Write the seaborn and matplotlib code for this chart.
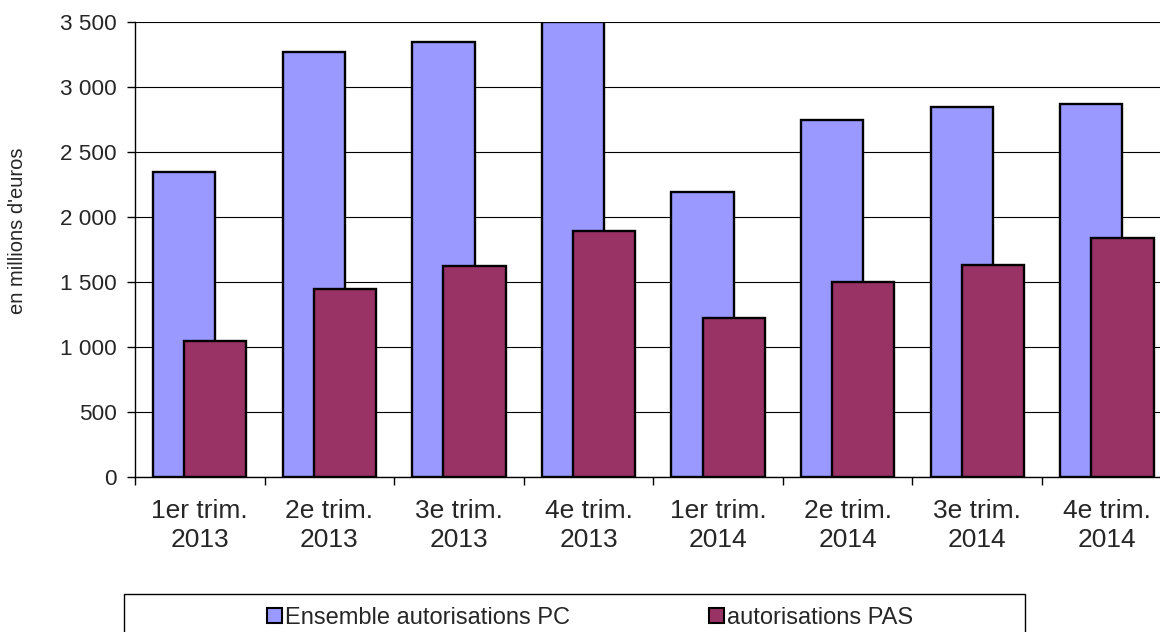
import numpy as np
import pandas as pd
import matplotlib
matplotlib.use("Agg")
import matplotlib.pyplot as plt
from matplotlib.patches import Rectangle, Patch
import seaborn as sns

# data (millions d'euros)
quarters = ["1er trim.\n2013", "2e trim.\n2013", "3e trim.\n2013", "4e trim.\n2013",
            "1er trim.\n2014", "2e trim.\n2014", "3e trim.\n2014", "4e trim.\n2014"]
pc_values = [2350, 3270, 3350, 3500, 2190, 2750, 2850, 2870]
pas_values = [1050, 1445, 1620, 1895, 1220, 1500, 1630, 1835]
y_ticks = [0, 500, 1000, 1500, 2000, 2500, 3000, 3500]

pc_label = "Ensemble autorisations PC"
pas_label = "autorisations PAS"
pc_color = "#9999FF"
pas_color = "#993366"

sns.set_style("white")
plt.rcParams['font.family'] = ['Liberation Sans', 'DejaVu Sans']

idx = np.arange(len(quarters))
df_pc = pd.DataFrame({"pos": idx - 0.12, "value": pc_values})
df_pas = pd.DataFrame({"pos": idx + 0.12, "value": pas_values})

fig = plt.figure(figsize=(11.6, 6.32), dpi=100)
ax = fig.add_axes([135/1160, 1 - 477/632, 1 - 135/1160, (477 - 22)/632])

ax.set_axisbelow(True)
ax.yaxis.grid(True, color='black', linewidth=0.8)

sns.barplot(data=df_pc, x="pos", y="value", native_scale=True, width=0.48,
            color=pc_color, saturation=1, edgecolor='black', linewidth=1.7,
            errorbar=None, ax=ax, zorder=2)
sns.barplot(data=df_pas, x="pos", y="value", native_scale=True, width=0.48,
            color=pas_color, saturation=1, edgecolor='black', linewidth=1.7,
            errorbar=None, ax=ax, zorder=3)

ax.set_xlabel("")
ax.set_ylabel("")

ax.set_yticks(y_ticks)
ax.set_yticklabels([f"{v:,}".replace(",", " ") for v in y_ticks], fontsize=16.2)
ax.tick_params(axis='y', direction='out', length=6, width=1, color='black', pad=7, left=True)

ax.set_xticks(idx)
ax.set_xticklabels(quarters, fontsize=19, linespacing=1.27)
ax.set_xticks(np.arange(-0.5, len(quarters), 1.0), minor=True)
ax.tick_params(axis='x', which='major', length=0, pad=16)
ax.tick_params(axis='x', which='minor', direction='out', length=6, width=1, color='black', bottom=True)

# set limits after the ticks (set_xticks widens the view)
ax.set_xlim(-0.5, 7.41)
ax.set_ylim(0, 3500)

for side in ['top', 'right']:
    ax.spines[side].set_visible(False)
for side in ['left', 'bottom']:
    ax.spines[side].set_color('black')
    ax.spines[side].set_linewidth(1)

fig.text(18/1160, 1 - 231/632, "en millions d'euros", rotation=90,
         ha='center', va='center', fontsize=14.5)

# legend frame (runs past the bottom of the picture, as in the reference)
frame = Rectangle((124/1160, -0.1), (1025 - 124)/1160, 0.1 + (632 - 594)/632,
                  transform=fig.transFigure, fill=False, edgecolor='black',
                  linewidth=1, clip_on=False)
fig.patches.append(frame)

handles = [Patch(facecolor=pc_color, edgecolor='black', linewidth=1.5),
           Patch(facecolor=pas_color, edgecolor='black', linewidth=1.5)]
fig.legend(handles, [pc_label, pas_label], loc='center', ncol=2,
           bbox_to_anchor=(590/1160, 1 - 618/632), frameon=False, fontsize=17,
           handlelength=0.64, handleheight=0.6, handletextpad=0.15,
           columnspacing=5.85, borderpad=0, borderaxespad=0)

fig.savefig("out.png", dpi=100)
